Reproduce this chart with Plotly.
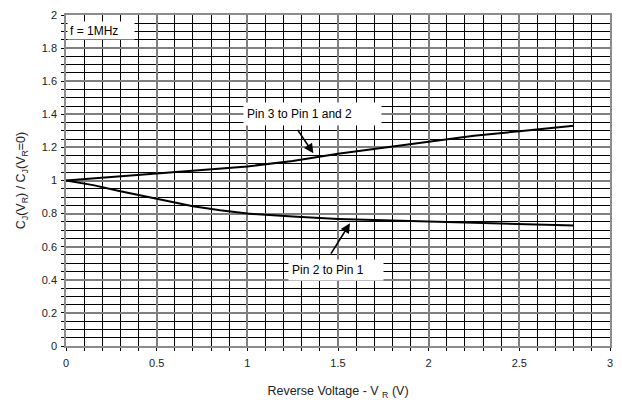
import plotly.graph_objects as go

# Data
vr_upper = [0.0, 0.25, 0.5, 0.75, 1.0, 1.25, 1.5, 1.75, 2.0, 2.25, 2.5, 2.8]
cj_upper = [1.0, 1.021, 1.043, 1.064, 1.085, 1.118, 1.162, 1.198, 1.236, 1.27, 1.298, 1.331]

vr_lower = [0.0, 0.15, 0.3, 0.5, 0.7, 0.85, 1.0, 1.25, 1.5, 1.75, 2.0, 2.25, 2.5, 2.8]
cj_lower = [1.0, 0.972, 0.935, 0.892, 0.845, 0.82, 0.80, 0.782, 0.768, 0.76, 0.752, 0.745, 0.738, 0.728]

label_upper = "Pin 3 to Pin 1 and 2"
label_lower = "Pin 2 to Pin 1"
label_freq = "f = 1MHz"

FONT = "Liberation Sans, Arial, sans-serif"

fig = go.Figure()
fig.add_trace(go.Scatter(x=vr_upper, y=cj_upper, mode="lines",
                         line=dict(color="black", width=2), showlegend=False))
fig.add_trace(go.Scatter(x=vr_lower, y=cj_lower, mode="lines",
                         line=dict(color="black", width=2), showlegend=False))

# Arrows
fig.add_annotation(x=1.364, y=1.164, ax=1.272, ay=1.315, xref="x", yref="y",
                   axref="x", ayref="y", text="", showarrow=True,
                   arrowhead=2, arrowsize=1.2, arrowwidth=1.6, arrowcolor="black",
                   font=dict(family=FONT, size=11))
fig.add_annotation(x=1.566, y=0.741, ax=1.456, ay=0.549, xref="x", yref="y",
                   axref="x", ayref="y", text="", showarrow=True,
                   arrowhead=2, arrowsize=1.2, arrowwidth=1.6, arrowcolor="black",
                   font=dict(family=FONT, size=11))

# Text boxes
fig.add_annotation(x=0.976, y=1.401, xref="x", yref="y", text=label_upper,
                   showarrow=False, xanchor="left", yanchor="middle",
                   width=131, height=16, align="left", borderpad=3,
                   bgcolor="white", font=dict(family=FONT, size=12, color="black"))
fig.add_annotation(x=1.224, y=0.458, xref="x", yref="y", text=label_lower,
                   showarrow=False, xanchor="left", yanchor="middle",
                   width=88, height=14, align="left", borderpad=3,
                   bgcolor="white", font=dict(family=FONT, size=12, color="black"))
fig.add_annotation(x=0.004, y=1.904, xref="x", yref="y", text=label_freq,
                   showarrow=False, xanchor="left", yanchor="middle",
                   width=62, height=13, align="left", borderpad=2,
                   bgcolor="white", font=dict(family=FONT, size=12, color="black"))

# The page body adds an 8px margin, so the figure is sized to fit the 622x400 window.
fig.update_layout(
    width=614, height=392,
    margin=dict(l=58, r=12, t=7, b=54, autoexpand=False),
    paper_bgcolor="white", plot_bgcolor="white",
    font=dict(family=FONT, size=11, color="black"),
    xaxis=dict(
        range=[0, 3], dtick=0.5, tick0=0, automargin=False,
        showgrid=True, gridcolor="#7f7f7f", gridwidth=1.5,
        minor=dict(dtick=0.1, showgrid=True, gridcolor="black", gridwidth=1,
                   ticks="outside", ticklen=3, tickcolor="black"),
        ticks="outside", ticklen=3, tickcolor="black",
        showline=True, linecolor="#8c8c8c", linewidth=1.5, mirror=True,
        zeroline=False, tickfont=dict(family=FONT, size=11, color="#222"),
        ticklabelstandoff=3,
        title=dict(text="Reverse Voltage - V <sub>R</sub> (V)",
                   font=dict(family=FONT, size=12.5, color="#222"), standoff=19),
    ),
    yaxis=dict(
        range=[0, 2], dtick=0.2, tick0=0, automargin=False,
        showgrid=True, gridcolor="#7f7f7f", gridwidth=1.5,
        minor=dict(dtick=0.05, showgrid=True, gridcolor="black", gridwidth=1,
                   ticks="outside", ticklen=3, tickcolor="black"),
        ticks="outside", ticklen=3, tickcolor="black",
        showline=True, linecolor="#8c8c8c", linewidth=1.5, mirror=True,
        zeroline=False, tickfont=dict(family=FONT, size=11, color="#222"),
        ticklabelstandoff=2,
        title=dict(text="C<sub>J</sub>(V<sub>R</sub>) / C<sub>J</sub>(V<sub>R</sub>=0)",
                   font=dict(family=FONT, size=12.5, color="#222"), standoff=13),
    ),
)

fig.write_html("out.html")
